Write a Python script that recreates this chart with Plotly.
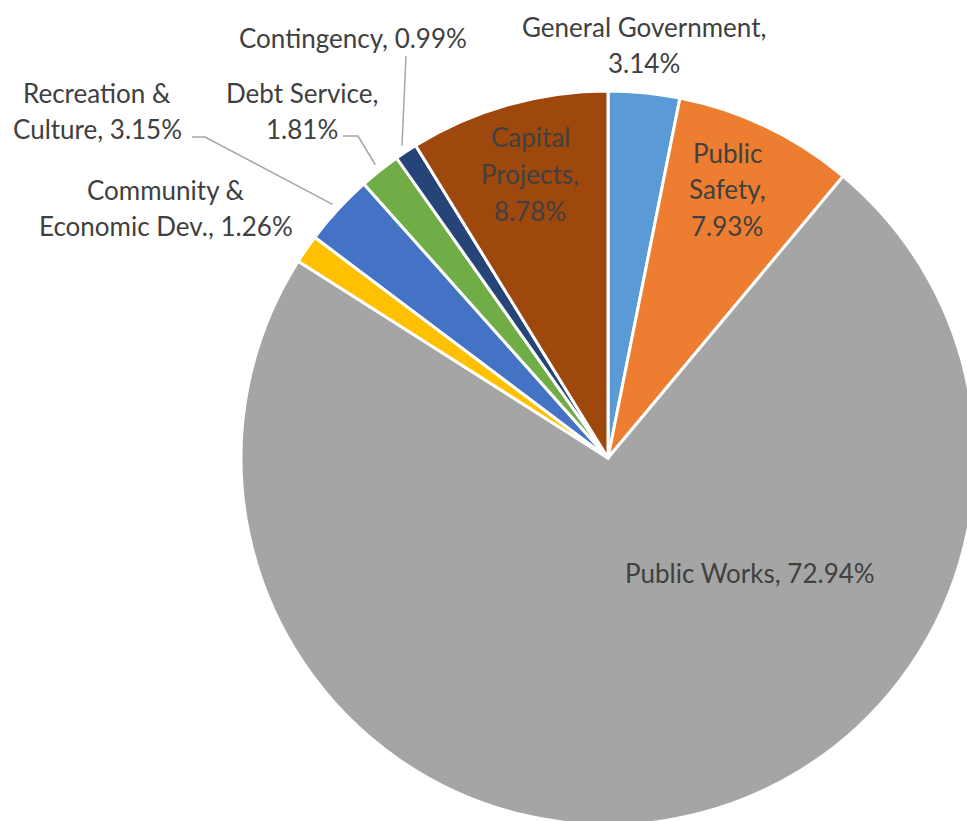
import math
import plotly.graph_objects as go

# Budget share by department, in pie order (clockwise from 12 o'clock)
categories = [
    "General Government",
    "Public Safety",
    "Public Works",
    "Community & Economic Dev.",
    "Recreation & Culture",
    "Debt Service",
    "Contingency",
    "Capital Projects",
]
shares = [3.14, 7.93, 72.94, 1.26, 3.15, 1.81, 0.99, 8.78]
colors = ["#5B9BD5", "#ED7D31", "#A5A5A5", "#FFC000",
          "#4472C4", "#70AD47", "#264478", "#9E480E"]

# Data label text ({v} is replaced by the slice value)
label_templates = [
    "General Government,<br>{v}%",
    "Public<br>Safety,<br>{v}%",
    "Public Works, {v}%",
    "Community &<br>Economic Dev., {v}%",
    "Recreation &<br>Culture, {v}%",
    "Debt Service,<br>{v}%",
    "Contingency, {v}%",
    "Capital<br>Projects,<br>{v}%",
]

# Label block centres (pixels) and optional leader-line elbow
label_pos = [(644, 45), (727, 189), (750, 573), (166, 208),
             (97, 111), (302, 111), (353, 38), (530, 174)]
leader_start = {4: [(192, 137), (205, 137)],
                5: [(343, 136), (358, 136)],
                6: [(406, 56)]}
LINE_GAP = 36.5

W, H = 980, 830
ML, MR, MT, MB = 241, 5, 91, 5
PW, PH = W - ML - MR, H - MT - MB
CX, CY = ML + PW / 2, MT + PH / 2
R = min(PW, PH) / 2

def to_paper(px, py):
    return (px - ML) / PW, 1 - (py - MT) / PH

fig = go.Figure(go.Pie(
    labels=categories,
    values=shares,
    sort=False,
    direction="clockwise",
    rotation=0,
    marker=dict(colors=colors, line=dict(color="white", width=3)),
    textinfo="none",
    hoverinfo="label+percent",
    showlegend=False,
    domain=dict(x=[0, 1], y=[0, 1]),
))

font = dict(family="Lato, Carlito, Calibri, sans-serif", size=26, color="#404040")

total = sum(shares)
cum = 0.0
shapes = []
annotations = []
for i, (cat, v) in enumerate(zip(categories, shares)):
    mid = (cum + v / 2) / total * 2 * math.pi
    cum += v
    lines = label_templates[i].format(v=f"{v:.2f}").split("<br>")
    bx, by = label_pos[i]
    for k, line in enumerate(lines):
        ly = by + (k - (len(lines) - 1) / 2) * LINE_GAP
        tx, ty = to_paper(bx, ly)
        annotations.append(dict(
            x=tx, y=ty, xref="paper", yref="paper",
            text=line, showarrow=False,
            xanchor="center", yanchor="middle",
            align="center", font=font,
        ))
    if i in leader_start:
        ex = CX + 1.02 * R * math.sin(mid)
        ey = CY - 1.02 * R * math.cos(mid)
        pts = leader_start[i] + [(ex, ey)]
        path = ""
        for k, (px, py) in enumerate(pts):
            qx, qy = to_paper(px, py)
            path += ("M" if k == 0 else " L") + f" {qx:.5f},{qy:.5f}"
        shapes.append(dict(type="path", path=path, xref="paper", yref="paper",
                           line=dict(color="#A6A6A6", width=1.5)))

fig.update_layout(
    width=W, height=H,
    margin=dict(l=ML, r=MR, t=MT, b=MB),
    paper_bgcolor="white",
    plot_bgcolor="white",
    shapes=shapes,
    annotations=annotations,
)

fig.write_html(
    "out.html",
    post_script=(
        "document.body.style.margin='0';"
        "document.body.style.overflow='hidden';"
        "document.documentElement.style.overflow='hidden';"
    ),
)
